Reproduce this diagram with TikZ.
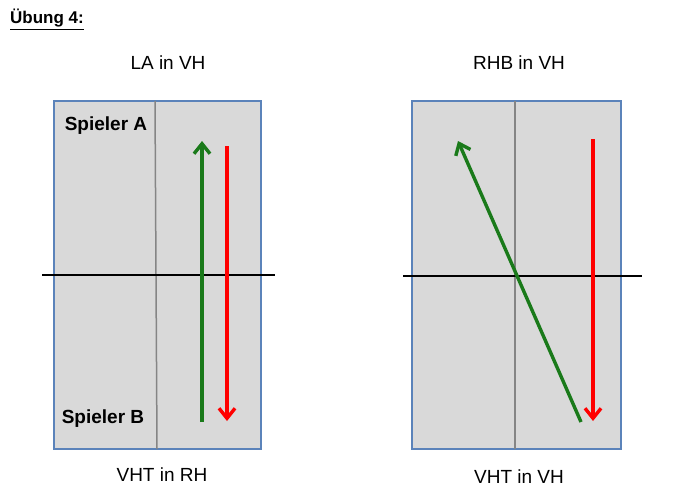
\documentclass[tikz,border=0pt]{standalone}
\usepackage{fontspec}
\setmainfont{Liberation Sans}
\usetikzlibrary{arrows.meta}
\definecolor{boxfill}{HTML}{D9D9D9}
\definecolor{boxedge}{HTML}{5B83BA}
\definecolor{midgray}{HTML}{858585}
\definecolor{arrgreen}{HTML}{1A7A1A}
\definecolor{arrred}{HTML}{FF0000}
\tikzset{
  court/.style={draw=boxedge, fill=boxfill, line width=1.8pt},
  midline/.style={draw=midgray, line width=1.5pt},
  netline/.style={draw=black, line width=1.8pt},
  shot/.style={line width=3.4pt, -{Straight Barb[length=10pt,width=16pt,line width=3.4pt]}},
  caption/.style={font=\fontsize{19}{22}\selectfont, inner sep=0pt},
  player/.style={font=\bfseries\fontsize{19}{22}\selectfont, inner sep=0pt},
}
\begin{document}
\begin{tikzpicture}[x=1pt,y=-1pt]
\useasboundingbox (0,0) rectangle (695,500);
% title
\node[font=\bfseries\fontsize{17}{20}\selectfont, inner sep=0pt, anchor=west] (title) at (10,18) {Übung 4:};
\draw[line width=1pt] ([yshift=-2.5pt]title.south west) -- ([yshift=-2.5pt]title.south east);
% left court
\draw[court] (54,101) rectangle (261,449);
\coordinate (lmt) at (155,101);
\coordinate (lmb) at (157,449);
\draw[midline] (lmt) -- (lmb);
\coordinate (lnw) at (42,275);
\coordinate (lne) at (275,275);
\draw[netline] (lnw) -- (lne);
\coordinate (lgs) at (202,422);
\coordinate (lge) at (202,141);
\draw[shot, arrgreen] (lgs) -- (lge);
\coordinate (lrs) at (227,146);
\coordinate (lre) at (227,421);
\draw[shot, arrred] (lrs) -- (lre);
\node[player] (spa) at (106,126) {Spieler A};
\node[player] (spb) at (103,419) {Spieler B};
\node[caption] (lat) at (168,63) {LA in VH};
\node[caption] (lab) at (162,475) {VHT in RH};
% right court
\draw[court] (412,101) rectangle (621,449);
\coordinate (rmt) at (515,101);
\coordinate (rmb) at (515,449);
\draw[midline] (rmt) -- (rmb);
\coordinate (rnw) at (403,276);
\coordinate (rne) at (642,276);
\draw[netline] (rnw) -- (rne);
\coordinate (rgs) at (581,422);
\coordinate (rge) at (458,141);
\draw[shot, arrgreen] (rgs) -- (rge);
\coordinate (rrs) at (593,139);
\coordinate (rre) at (593,421);
\draw[shot, arrred] (rrs) -- (rre);
\node[caption] (rat) at (519,63) {RHB in VH};
\node[caption] (rab) at (519,477) {VHT in VH};
\end{tikzpicture}
\end{document}
